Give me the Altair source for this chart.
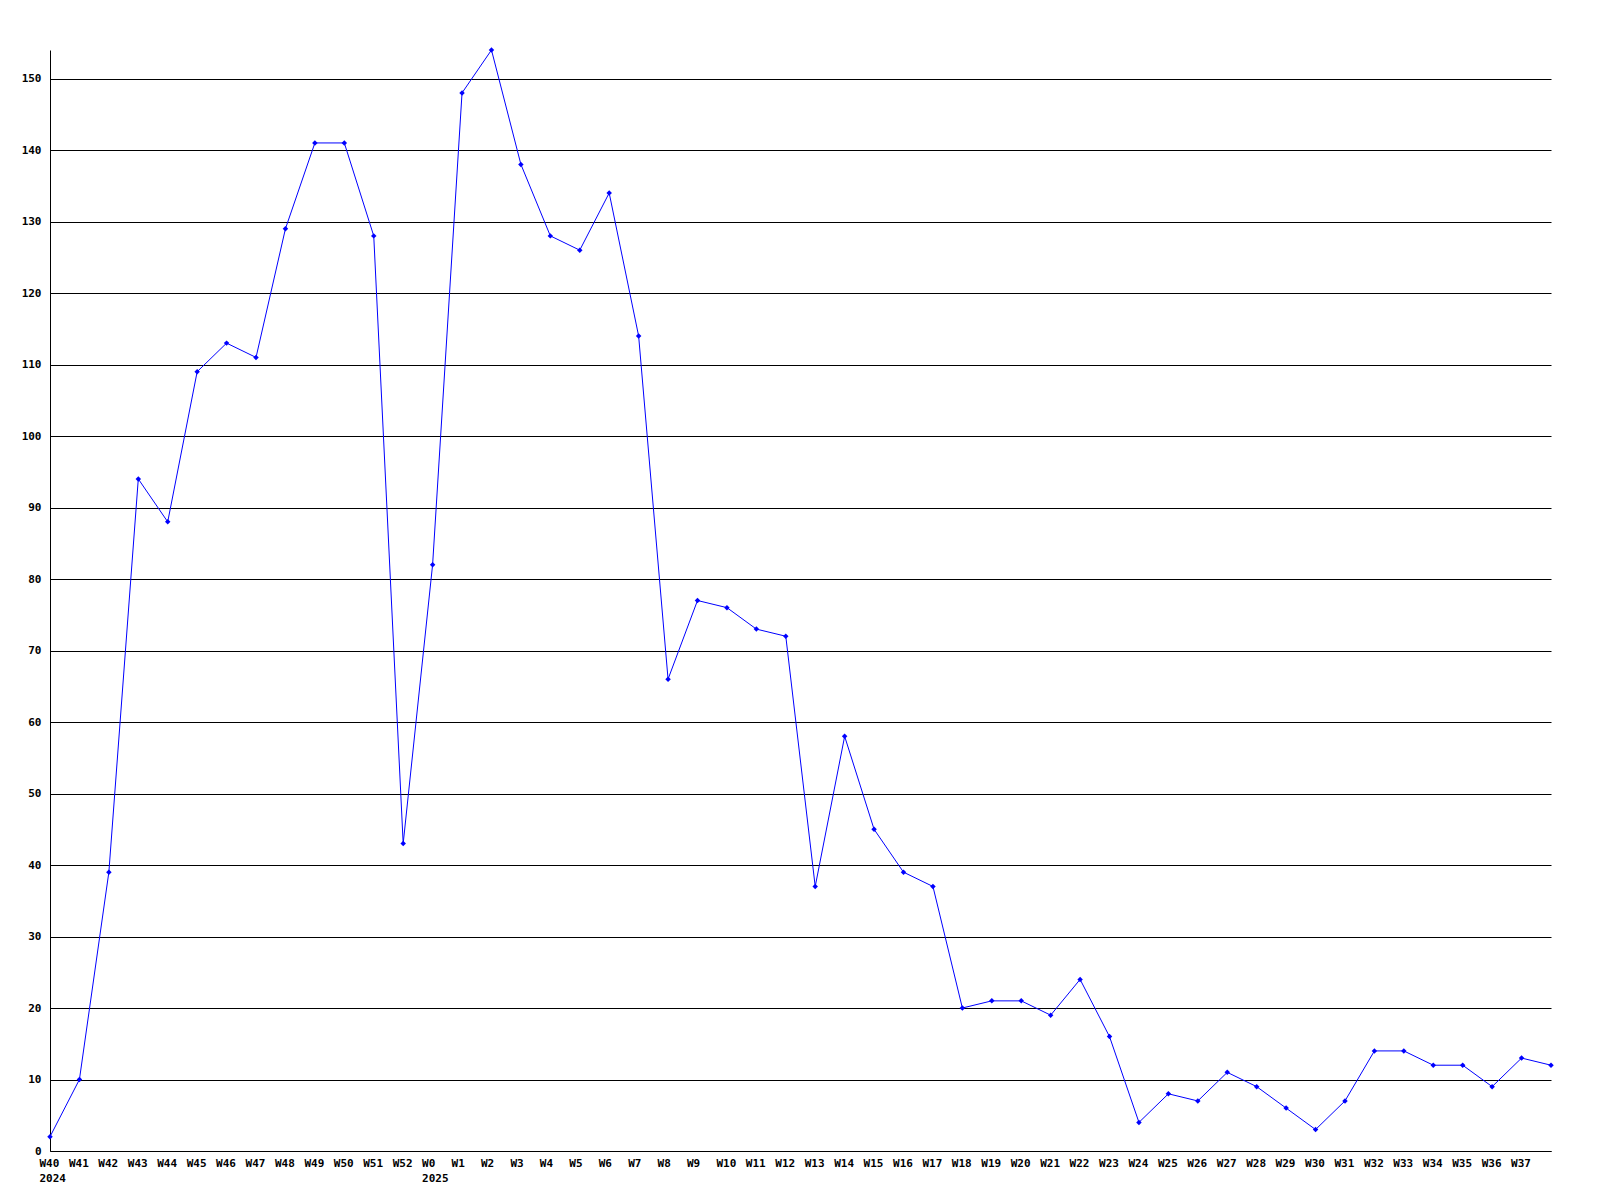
import altair as alt
import pandas as pd

weeks = ["W40", "W41", "W42", "W43", "W44", "W45", "W46", "W47", "W48", "W49", "W50", "W51", "W52",
         "W0", "W1", "W2", "W3", "W4", "W5", "W6", "W7", "W8", "W9", "W10", "W11", "W12", "W13",
         "W14", "W15", "W16", "W17", "W18", "W19", "W20", "W21", "W22", "W23", "W24", "W25", "W26",
         "W27", "W28", "W29", "W30", "W31", "W32", "W33", "W34", "W35", "W36", "W37", "W38"]
values = [2, 10, 39, 94, 88, 109, 113, 111, 129, 141, 141, 128, 43,
          82, 148, 154, 138, 128, 126, 134, 114, 66, 77, 76, 73, 72, 37,
          58, 45, 39, 37, 20, 21, 21, 19, 24, 16, 4, 8, 7,
          11, 9, 6, 3, 7, 14, 14, 12, 12, 9, 13, 12]
year_marks = {"W40": "2024", "W0": "2025"}
hidden_labels = ["W38"]
y_ticks = list(range(0, 151, 10))

df = pd.DataFrame({"week": weeks, "value": values})

label_expr = " : ".join(
    [f"datum.value == '{w}' ? ['{w}', '{y}']" for w, y in year_marks.items()]
    + [f"datum.value == '{w}' ? ''" for w in hidden_labels]
) + " : datum.value"

font = "DejaVu Sans Mono"

x = alt.X("week:O", sort=weeks,
          scale=alt.Scale(type="point", padding=0),
          axis=alt.Axis(title=None, labelAngle=0, ticks=False, grid=False,
                        domainColor="black", domainWidth=1,
                        labelExpr=label_expr, labelAlign="left", labelOffset=-11,
                        labelBaseline="top", labelPadding=6, labelLineHeight=15,
                        labelFont=font, labelFontSize=11, labelFontWeight="bold",
                        labelColor="black", labelOverlap=False, labelBound=False))
y = alt.Y("value:Q",
          scale=alt.Scale(domain=[0, 154], nice=False, zero=True),
          axis=alt.Axis(title=None, values=y_ticks, ticks=False, grid=True,
                        gridColor="black", gridWidth=1, gridOpacity=1,
                        domainColor="black", domainWidth=1,
                        labelPadding=9, labelFont=font, labelFontSize=11,
                        labelFontWeight="bold", labelColor="black"))

base = alt.Chart(df).encode(x=x, y=y)
line = base.mark_line(color="#0000ff", strokeWidth=1)
pts = base.mark_point(shape="diamond", filled=True, color="#0000ff", size=30, opacity=1)

chart = (line + pts).properties(
    width=1501, height=1101,
    padding={"left": 42, "top": 42, "right": 20, "bottom": 40},
    autosize=alt.AutoSizeParams(type="none"),
    background="white",
).configure_view(stroke=None)

chart.save("out.html", embed_options={"renderer": "svg", "actions": False})
